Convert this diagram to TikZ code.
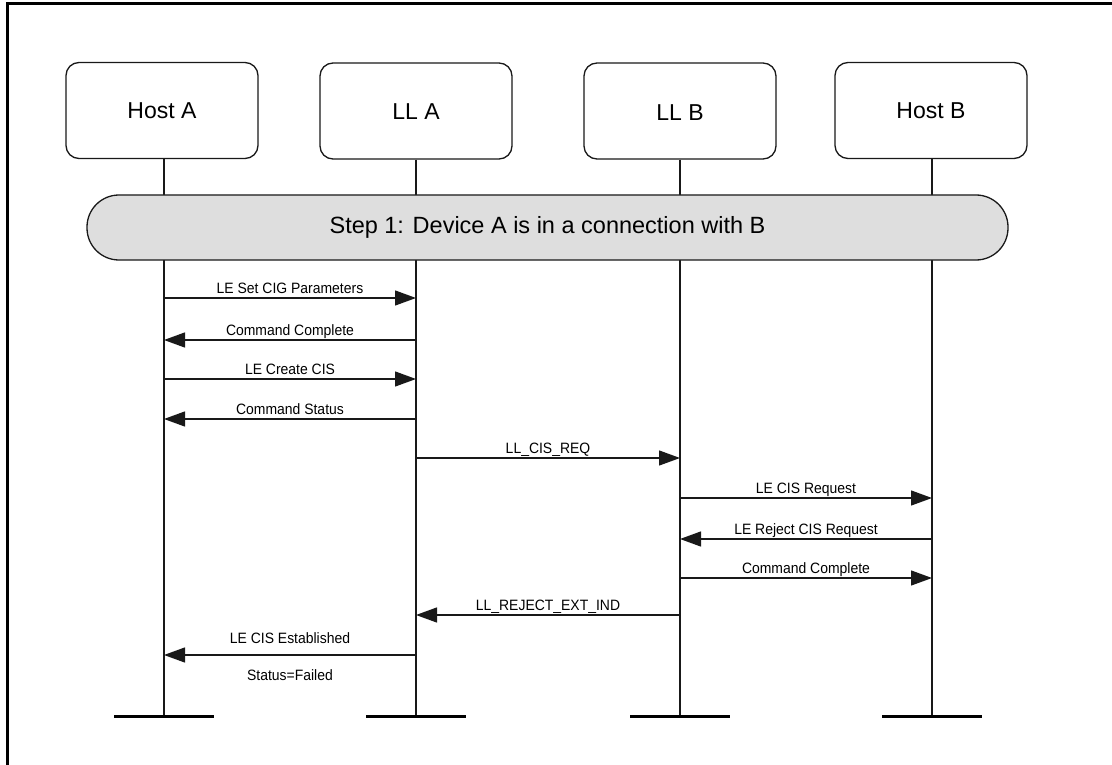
\documentclass[tikz,border=0pt]{standalone}
\usepackage{fontspec}
\setmainfont{Liberation Sans}
\newfontfamily\msgfont[FakeStretch=0.93]{Liberation Sans}
\usetikzlibrary{arrows.meta}
\definecolor{bandgray}{RGB}{222,222,222}
\definecolor{ink}{RGB}{25,25,25}
\tikzset{
  actor/.style={draw=ink, line width=1.3pt, rounded corners=13pt, minimum width=192pt, minimum height=96pt, inner sep=0pt, text height=16.5pt, text depth=0pt, font=\fontsize{23}{27}\selectfont},
  lowtext/.style={text height=18.5pt, text depth=-2pt},
  life/.style={draw=ink, line width=1.3pt},
  bar/.style={draw=black, line width=3pt},
  band/.style={draw=ink, line width=1.3pt, fill=bandgray, rounded corners=32pt},
  msg/.style={draw=ink, line width=1.3pt, -{Triangle[length=21pt,width=15pt]}},
  lbl/.style={anchor=base, inner sep=0pt, font=\msgfont\fontsize{15}{18}\selectfont},
}
\begin{document}
\begin{tikzpicture}[x=1pt,y=-1pt]
\useasboundingbox (0,0) rectangle (1112,765);
\fill[white] (0,0) rectangle (1112,765);
% frame
\draw[line width=3pt] (7,770) -- (7,4) -- (1120,4);
% actors
\node[actor] (ha) at (162,110.5) {Host A};
\node[actor] (la) at (416,111) {LL A};
\node[actor, lowtext] (lb) at (680,111) {LL B};
\node[actor] (hb) at (931,110.5) {Host B};
% lifeline ends
\coordinate (haE) at (164,716);
\coordinate (laE) at (416,716);
\coordinate (lbE) at (680,716);
\coordinate (hbE) at (932,716);
\draw[life] (ha.south -| haE) -- (haE);
\draw[life] (la.south) -- (laE);
\draw[life] (lb.south) -- (lbE);
\draw[life] (hb.south -| hbE) -- (hbE);
\draw[bar] ([xshift=-50pt]haE) -- ([xshift=50pt]haE);
\draw[bar] ([xshift=-50pt]laE) -- ([xshift=50pt]laE);
\draw[bar] ([xshift=-50pt]lbE) -- ([xshift=50pt]lbE);
\draw[bar] ([xshift=-50pt]hbE) -- ([xshift=50pt]hbE);
% step band
\draw[band] (87,195) rectangle (1008,260);
\node[font=\fontsize{23.5}{27}\selectfont, inner sep=0pt] (step) at (547.5,227.5) {Step 1: Device A is in a connection with B};
% messages
\draw[msg] (haE |- 0,298) -- (laE |- 0,298) node[lbl, midway, yshift=5pt] {LE Set CIG Parameters};
\draw[msg] (laE |- 0,340) -- (haE |- 0,340) node[lbl, midway, yshift=5pt] {Command Complete};
\draw[msg] (haE |- 0,379) -- (laE |- 0,379) node[lbl, midway, yshift=5pt] {LE Create CIS};
\draw[msg] (laE |- 0,419) -- (haE |- 0,419) node[lbl, midway, yshift=5pt] {Command Status};
\draw[msg] (laE |- 0,458) -- (lbE |- 0,458) node[lbl, midway, yshift=5pt] {LL\_CIS\_REQ};
\draw[msg] (lbE |- 0,498) -- (hbE |- 0,498) node[lbl, midway, yshift=5pt] {LE CIS Request};
\draw[msg] (hbE |- 0,539) -- (lbE |- 0,539) node[lbl, midway, yshift=5pt] {LE Reject CIS Request};
\draw[msg] (lbE |- 0,578) -- (hbE |- 0,578) node[lbl, midway, yshift=5pt] {Command Complete};
\draw[msg] (lbE |- 0,615) -- (laE |- 0,615) node[lbl, midway, yshift=5pt] {LL\_REJECT\_EXT\_IND};
\draw[msg] (laE |- 0,655) -- (haE |- 0,655)
  node[lbl, midway, yshift=12pt] {LE CIS Established}
  node[lbl, midway, yshift=-25pt] {Status=Failed};
\end{tikzpicture}
\end{document}
